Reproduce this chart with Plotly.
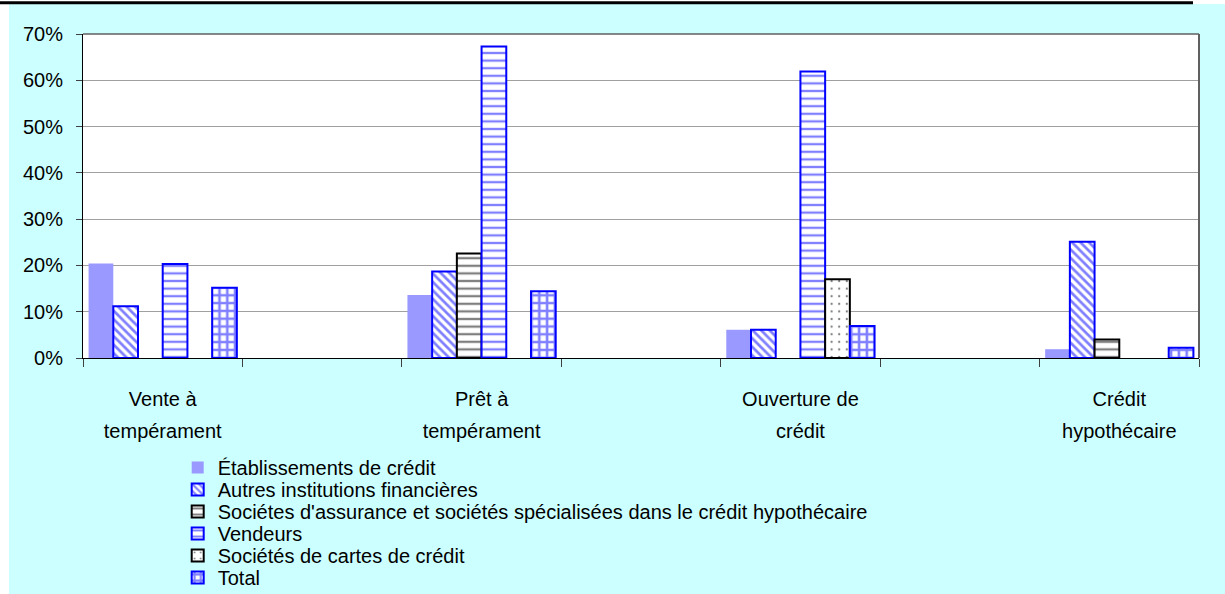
import plotly.graph_objects as go

# ---------------- data ----------------
categories = ["Vente à tempérament", "gap1", "Prêt à tempérament", "gap2",
              "Ouverture de crédit", "gap3", "Crédit hypothécaire"]
label_line1 = ["Vente à", "", "Prêt à", "", "Ouverture de", "", "Crédit"]
label_line2 = ["tempérament", "", "tempérament", "", "crédit", "", "hypothécaire"]

etablissements = [0.204, None, 0.136, None, 0.061, None, 0.019]
autres_inst = [0.112, None, 0.187, None, 0.061, None, 0.251]
assurance_hyp = [None, None, 0.226, None, None, None, 0.040]
vendeurs = [0.203, None, 0.673, None, 0.619, None, None]
cartes = [None, None, None, None, 0.170, None, None]
total = [0.152, None, 0.144, None, 0.069, None, 0.022]

series_names = [
    "Établissements de crédit",
    "Autres institutions financières",
    "Sociétes d'assurance et sociétés spécialisées dans le crédit hypothécaire",
    "Vendeurs",
    "Sociétés de cartes de crédit",
    "Total",
]
series_values = [etablissements, autres_inst, assurance_hyp, vendeurs, cartes, total]

y_tickvals = [0, 0.1, 0.2, 0.3, 0.4, 0.5, 0.6, 0.7]

# ---------------- styles ----------------
BLUE = "#0000FF"
styles = [
    dict(color="#9999FF", line=dict(width=0)),
    dict(color="white", line=dict(color=BLUE, width=2),
         pattern=dict(shape="\\", fgcolor=BLUE, bgcolor="white", size=6, solidity=0.45, fillmode="overlay")),
    dict(color="white", line=dict(color="black", width=2),
         pattern=dict(shape="-", fgcolor="black", bgcolor="white", size=7.6, solidity=0.3, fillmode="overlay")),
    dict(color="white", line=dict(color=BLUE, width=2),
         pattern=dict(shape="-", fgcolor=BLUE, bgcolor="white", size=7.6, solidity=0.3, fillmode="overlay")),
    dict(color="white", line=dict(color="black", width=2),
         pattern=dict(shape=".", fgcolor="black", bgcolor="white", size=7.6, solidity=0.07, fillmode="overlay")),
    dict(color="white", line=dict(color=BLUE, width=2),
         pattern=dict(shape="+", fgcolor=BLUE, bgcolor="white", size=7.8, solidity=0.55, fillmode="overlay")),
]

FONT = "Liberation Sans, Arial, sans-serif"
W, H = 1225, 594
L, R, T, B = 83, 26, 34, 236
PW, PH = W - L - R, H - T - B


def px_x(px):
    return (px - L) / PW


def px_y(py):
    return (H - B - py) / PH


# two-line category labels, with the wide line spacing of the original
LABEL_PX = 20
LINE_FONT = 24.5  # sets the gap between the two lines (1.3 * size)
ticktext = [
    (f'<span style="font-size:{LABEL_PX}px">{a}</span><br>'
     f'<span style="font-size:{LABEL_PX}px">{b}</span>') if a else ""
    for a, b in zip(label_line1, label_line2)
]

fig = go.Figure()
legend_keys = []
for i, (name, vals, st) in enumerate(zip(series_names, series_values, styles)):
    key = "legend" if i == 0 else f"legend{i + 1}"
    legend_keys.append(key)
    fig.add_trace(go.Bar(
        x=categories, y=vals, name=name, marker=st, legend=key, showlegend=True,
    ))

# legends: one per row so the row spacing matches the reference
legend_rows_px = [467.5 + 22 * i for i in range(len(series_names))]
legend_layout = {}
for key, py in zip(legend_keys, legend_rows_px):
    legend_layout[key] = dict(
        x=px_x(177.7), y=px_y(py), xanchor="left", yanchor="middle",
        bgcolor="rgba(0,0,0,0)", borderwidth=0,
        font=dict(family=FONT, size=20, color="black"),
        traceorder="normal",
    )

fig.update_layout(
    width=W, height=H,
    margin=dict(l=L, r=R, t=T, b=B, autoexpand=False),
    paper_bgcolor="#CCFFFF",
    plot_bgcolor="white",
    barmode="group",
    bargap=0.07,
    bargroupgap=0,
    font=dict(family=FONT, size=20, color="black"),
    xaxis=dict(
        type="category", categoryorder="array", categoryarray=categories,
        tickmode="array", tickvals=categories, ticktext=ticktext,
        tickson="boundaries", ticks="outside", ticklen=8, tickwidth=1, tickcolor="#404040",
        showline=True, linecolor="black", linewidth=1,
        showgrid=False, zeroline=False, fixedrange=True,
        ticklabelstandoff=18, tickangle=0,
        tickfont=dict(family=FONT, size=LINE_FONT, color="black"),
    ),
    yaxis=dict(
        range=[0, 0.7], tickmode="array", tickvals=y_tickvals, tickformat=".0%",
        ticks="outside", ticklen=6, tickcolor="#404040",
        showline=True, linecolor="black", linewidth=1,
        showgrid=True, gridcolor="#A0A0A0", gridwidth=1, zeroline=False,
        ticklabelstandoff=9, tickfont=dict(family=FONT, size=20, color="black"),
    ),
    shapes=[
        # white strips outside the cyan chart area
        dict(type="rect", xref="paper", yref="paper", x0=px_x(0), x1=px_x(9), y0=px_y(H), y1=px_y(0),
             fillcolor="white", line=dict(width=0), layer="below"),
        dict(type="rect", xref="paper", yref="paper", x0=px_x(0), x1=px_x(W), y0=px_y(4), y1=px_y(0),
             fillcolor="white", line=dict(width=0), layer="below"),
        # black rule at the top
        dict(type="line", xref="paper", yref="paper", x0=px_x(0), x1=px_x(1193), y0=px_y(2.8), y1=px_y(2.8),
             line=dict(color="black", width=3)),
        # plot-area border (top & right)
        dict(type="line", xref="paper", yref="paper", x0=0, x1=1, y0=1, y1=1,
             line=dict(color="#606060", width=1.5), layer="above"),
        dict(type="line", xref="paper", yref="paper", x0=1, x1=1, y0=0, y1=1,
             line=dict(color="#606060", width=2), layer="above"),
    ],
    **legend_layout,
)

fig.write_html(
    "out.html",
    config={"displayModeBar": False},
    post_script="document.body.style.margin='0';document.documentElement.style.overflow='hidden';",
)
